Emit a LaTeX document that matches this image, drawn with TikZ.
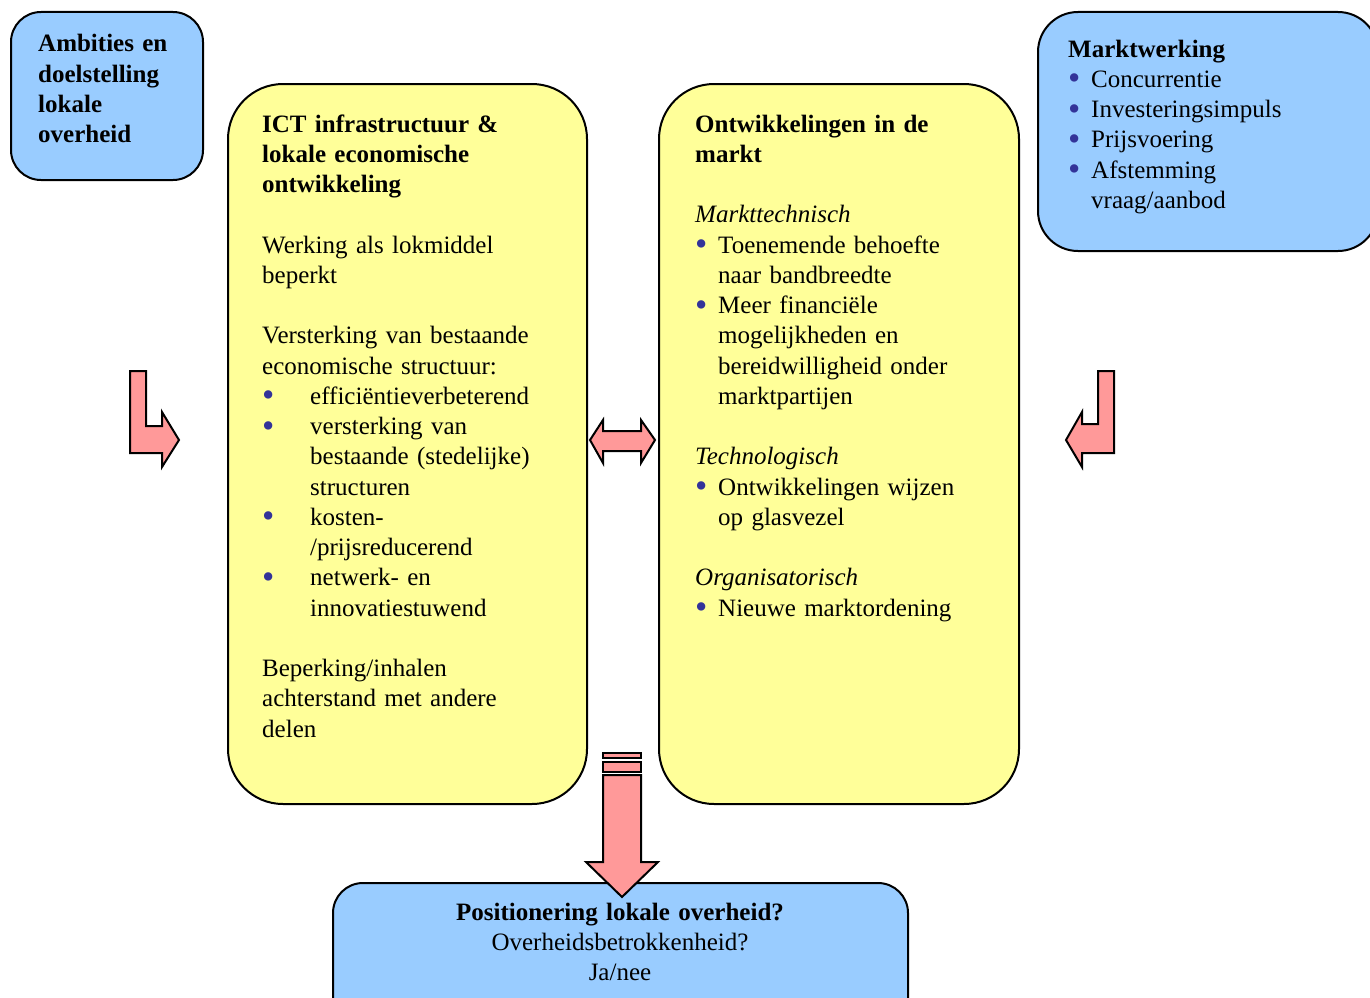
\documentclass[tikz,border=0pt]{standalone}
\usepackage{fontspec}
\setmainfont{Liberation Serif}
\definecolor{boxyellow}{HTML}{FFFF99}
\definecolor{boxblue}{HTML}{99CCFF}
\definecolor{arrowpink}{HTML}{FF9999}
\definecolor{bulc}{HTML}{333399}
\newcommand\dotitem[1]{\makebox[#1][l]{\smash{\raisebox{-2.5pt}{\textcolor{bulc}{\scalebox{1.4}{\textbullet}}}}}}
\newcommand\hangin[1]{\hspace*{#1}}
\tikzset{
  panel/.style={draw=black, line width=2pt, rounded corners=#1, inner sep=0pt},
  ybox/.style={panel=55pt, fill=boxyellow},
  bbox/.style={panel=30pt, fill=boxblue},
  txt/.style={anchor=base west, inner sep=0pt, align=left,
    font=\fontsize{25}{30.25}\selectfont},
  blockarrow/.style={draw=black, line width=2pt, fill=arrowpink, line join=miter},
}
\begin{document}
\begin{tikzpicture}[x=1pt, y=-1pt]
\useasboundingbox (0,0) rectangle (1370,998);

% panels
\node[bbox, minimum width=192pt, minimum height=168pt, anchor=north west] (ambities) at (10,11) {};
\node[ybox, minimum width=359pt, minimum height=720pt, anchor=north west] (ict) at (227,83) {};
\node[ybox, minimum width=360pt, minimum height=720pt, anchor=north west] (markt) at (658,83) {};
\node[panel=40pt, fill=boxblue, minimum width=340pt, minimum height=239pt, anchor=north west] (werking) at (1037,11) {};
\node[panel=30pt, fill=boxblue, minimum width=575pt, minimum height=160pt, anchor=north west] (positie) at (332,882) {};

% texts
\node[txt, text width=180pt] (tAmb) at (38,52) {\bfseries Ambities en\\ \bfseries doelstelling\\ \bfseries lokale\\ \bfseries overheid};

\node[txt, text width=330pt] (tIct) at (262,132) {%
{\bfseries ICT infrastructuur \&}\\
{\bfseries lokale economische}\\
{\bfseries ontwikkeling}\\[30.25pt]
Werking als lokmiddel\\
beperkt\\[30.25pt]
Versterking van bestaande\\
economische structuur:\\
\dotitem{48pt}efficiëntieverbeterend\\
\dotitem{48pt}versterking van\\
\hangin{48pt}bestaande (stedelijke)\\
\hangin{48pt}structuren\\
\dotitem{48pt}kosten-\\
\hangin{48pt}/prijsreducerend\\
\dotitem{48pt}netwerk- en\\
\hangin{48pt}innovatiestuwend\\[30.25pt]
Beperking/inhalen\\
achterstand met andere\\
delen};

\node[txt, text width=330pt] (tMarkt) at (695,132) {%
{\bfseries Ontwikkelingen in de}\\
{\bfseries markt}\\[30.25pt]
\textit{Markttechnisch}\\
\dotitem{23pt}Toenemende behoefte\\
\hangin{23pt}naar bandbreedte\\
\dotitem{23pt}Meer financiële\\
\hangin{23pt}mogelijkheden en\\
\hangin{23pt}bereidwilligheid onder\\
\hangin{23pt}marktpartijen\\[30.25pt]
\textit{Technologisch}\\
\dotitem{23pt}Ontwikkelingen wijzen\\
\hangin{23pt}op glasvezel\\[30.25pt]
\textit{Organisatorisch}\\
\dotitem{23pt}Nieuwe marktordening};

\node[txt, text width=300pt] (tWerk) at (1068,57) {%
{\bfseries Marktwerking}\\
\dotitem{23pt}Concurrentie\\
\dotitem{23pt}Investeringsimpuls\\
\dotitem{23pt}Prijsvoering\\
\dotitem{23pt}Afstemming\\
\hangin{23pt}vraag/aanbod};

\node[txt, anchor=base, text width=560pt, align=center] (tPos) at (620,920) {%
{\bfseries Positionering lokale overheid?}\\
Overheidsbetrokkenheid?\\
Ja/nee};

% block arrows
\draw[blockarrow] (130,371) -- (146,371) -- (146,426) -- (162,426) -- (162,412)
  -- (179,440) -- (162,467) -- (162,453) -- (130,453) -- cycle;
\draw[blockarrow] (1114,371) -- (1098,371) -- (1098,424) -- (1082,424) -- (1082,412)
  -- (1066,440) -- (1082,467) -- (1082,453) -- (1114,453) -- cycle;
\draw[blockarrow] (590,440) -- (603,420) -- (603,431) -- (641,431) -- (641,420)
  -- (655,440) -- (641,463) -- (641,451) -- (603,451) -- (603,463) -- cycle;
\draw[blockarrow] (603,753) rectangle (641,758);
\draw[blockarrow] (603,762) rectangle (641,772);
\draw[blockarrow] (603,775) -- (641,775) -- (641,862) -- (658,862) -- (622,897)
  -- (586,862) -- (603,862) -- cycle;
\end{tikzpicture}
\end{document}
